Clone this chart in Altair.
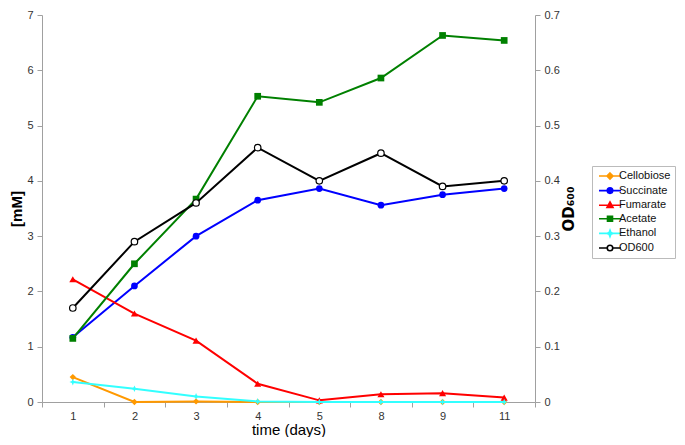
import altair as alt
import pandas as pd

days = ["1", "2", "3", "4", "5", "8", "9", "11"]
series_names = ["Cellobiose", "Succinate", "Fumarate", "Acetate", "Ethanol", "OD600"]
cellobiose = [0.45, 0.0, 0.01, 0.0, 0.0, 0.0, 0.0, 0.0]
succinate = [1.17, 2.10, 3.00, 3.65, 3.86, 3.56, 3.75, 3.86]
fumarate = [2.22, 1.60, 1.11, 0.33, 0.03, 0.14, 0.16, 0.08]
acetate = [1.15, 2.50, 3.67, 5.53, 5.42, 5.86, 6.63, 6.54]
ethanol = [0.36, 0.24, 0.10, 0.01, 0.0, 0.0, 0.0, 0.0]
od600 = [0.17, 0.29, 0.36, 0.46, 0.40, 0.45, 0.39, 0.40]

colors = ["#FF9900", "#0000FF", "#FF0000", "#008000", "#33FFFF", "#000000"]
legend_fills = ["#FF9900", "#0000FF", "#FF0000", "#008000", "#33FFFF", "#FFFFFF"]

mm_values = {
    "Cellobiose": cellobiose,
    "Succinate": succinate,
    "Fumarate": fumarate,
    "Acetate": acetate,
    "Ethanol": ethanol,
}

rows = []
for name, vals in mm_values.items():
    for d, v in zip(days, vals):
        rows.append({"day": d, "series": name, "value": v})
df = pd.DataFrame(rows)
od_df = pd.DataFrame({"day": days, "series": "OD600", "od": od600})

FONT = "Liberation Sans"
star = "M0,-1L0.3,-0.3L1,0L0.3,0.3L0,1L-0.3,0.3L-1,0L-0.3,-0.3Z"
chart_shapes = {
    "Cellobiose": ("diamond", 40),
    "Succinate": ("circle", 45),
    "Fumarate": ("triangle-up", 50),
    "Acetate": ("square", 45),
    "Ethanol": (star, 45),
}

x_enc = alt.X(
    "day:O",
    sort=days,
    scale=alt.Scale(type="band", domain=days, paddingInner=0, paddingOuter=0),
    axis=alt.Axis(
        title="time (days)",
        labelAngle=0,
        tickBand="extent",
        titleFontSize=15,
        titleFontWeight="normal",
        titlePadding=1,
        labelPadding=3,
    ),
)

y_left = alt.Y(
    "value:Q",
    scale=alt.Scale(domain=[0, 7], nice=False),
    axis=alt.Axis(
        title="[mM]",
        values=[0, 1, 2, 3, 4, 5, 6, 7],
        titleFontSize=15,
        titleFontWeight="bold",
        titlePadding=2,
        labelPadding=4,
    ),
)

layers = []
for name, col in zip(series_names[:5], colors[:5]):
    base = alt.Chart(df).transform_filter(alt.datum.series == name)
    layers.append(base.mark_line(color=col, strokeWidth=2).encode(x=x_enc, y=y_left))
    shp, sz = chart_shapes[name]
    layers.append(
        base.mark_point(shape=shp, size=sz, filled=True, color=col, opacity=1).encode(
            x=x_enc, y=y_left
        )
    )

# legend-only layer (no rows drawn)
legend_paths = [
    "M-2.2,0H2.2M0,-0.6L0.6,0L0,0.6L-0.6,0Z",
    "M-2.2,0H2.2M0.55,0A0.55,0.55 0 1,1 -0.55,0A0.55,0.55 0 1,1 0.55,0Z",
    "M-2.2,0H2.2M0,-0.65L0.6,0.45L-0.6,0.45Z",
    "M-2.2,0H2.2M-0.5,-0.5H0.5V0.5H-0.5Z",
    "M-2.2,0H2.2M0,-0.65L0.18,-0.18L0.65,0L0.18,0.18L0,0.65L-0.18,0.18L-0.65,0L-0.18,-0.18Z",
    "M-2.2,0H-0.55M0.55,0H2.2M0.55,0A0.55,0.55 0 1,1 -0.55,0A0.55,0.55 0 1,1 0.55,0Z",
]
legend = alt.Legend(
    title=None,
    orient="none",
    legendX=550,
    legendY=151,
    padding=4,
    strokeColor="#bbbbbb",
    fillColor="white",
    labelFont=FONT,
    labelFontSize=11,
    labelColor="#111111",
    symbolSize=100,
    symbolStrokeWidth=1.6,
    symbolOpacity=1,
    symbolOffset=8,
    rowPadding=1.6,
    labelOffset=3,
    labelLimit=200,
)
legend_layer = (
    alt.Chart(df)
    .transform_filter("false")
    .mark_point(filled=True, opacity=1)
    .encode(
        x=x_enc,
        y=y_left,
        fill=alt.Fill(
            "series:N",
            scale=alt.Scale(domain=series_names, range=legend_fills),
            legend=legend,
        ),
        stroke=alt.Stroke(
            "series:N",
            scale=alt.Scale(domain=series_names, range=colors),
            legend=legend,
        ),
        shape=alt.Shape(
            "series:N",
            scale=alt.Scale(domain=series_names, range=legend_paths),
            legend=legend,
        ),
    )
)
layers.append(legend_layer)

mm = alt.layer(*layers)

y_right = alt.Y(
    "od:Q",
    scale=alt.Scale(domain=[0, 0.7], nice=False),
    axis=alt.Axis(
        title="OD₆₀₀",
        orient="right",
        values=[0, 0.1, 0.2, 0.3, 0.4, 0.5, 0.6, 0.7],
        format=".1~f",
        titleFont="DejaVu Sans",
        titleFontSize=15,
        titleFontWeight="bold",
        titleAngle=270,
        titlePadding=17,
        labelPadding=4,
    ),
)
od_base = alt.Chart(od_df)
od_line = od_base.mark_line(color="#000000", strokeWidth=2).encode(x=x_enc, y=y_right)
od_pts = od_base.mark_point(
    shape="circle", size=42, filled=False, color="#000000", strokeWidth=1.2, fill="white", opacity=1
).encode(x=x_enc, y=y_right)
od = alt.layer(od_line, od_pts)

chart = (
    alt.layer(mm, od)
    .resolve_scale(y="independent")
    .properties(
        width=493,
        height=387,
        autosize=alt.AutoSizeParams(type="none"),
        padding={"left": 34, "top": 7, "right": 142, "bottom": 35},
    )
    .configure_view(stroke=None)
    .configure_axis(
        grid=False,
        domainColor="#a0a0a0",
        tickColor="#a0a0a0",
        tickSize=5,
        labelFont=FONT,
        labelFontSize=11,
        labelColor="#333333",
        titleFont=FONT,
        titleColor="#000000",
    )
)

chart.save("out.html", embed_options={"renderer": "svg", "actions": False})
